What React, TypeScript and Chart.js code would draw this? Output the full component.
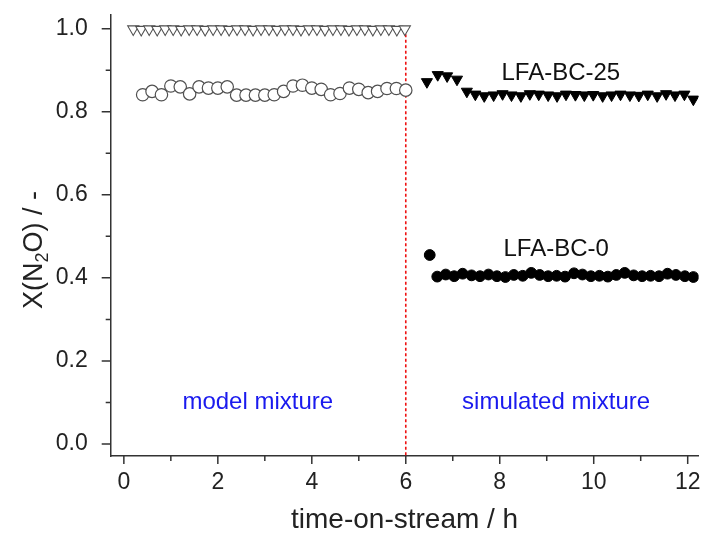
import React, { useEffect, useRef } from "react";
import { Chart, registerables } from "chart.js";

Chart.register(...registerables);

// ---------- data ----------
const xTickValues = [0, 2, 4, 6, 8, 10, 12];
const xMinorValues = [1, 3, 5, 7, 9, 11];
const yTickValues = [0, 0.2, 0.4, 0.6, 0.8, 1.0];
const yMinorValues = [0.1, 0.3, 0.5, 0.7, 0.9];

// model mixture, LFA-BC-25 (open triangles)
const modelBC25X = [0.2, 0.37, 0.54, 0.71, 0.88, 1.05, 1.22, 1.39, 1.56, 1.73, 1.9, 2.07, 2.24, 2.41, 2.58, 2.75, 2.92, 3.09, 3.26, 3.43, 3.6, 3.77, 3.94, 4.11, 4.28, 4.45, 4.62, 4.79, 4.96, 5.13, 5.3, 5.47, 5.64, 5.81, 5.98];
const modelBC25Y = [0.999, 0.998, 0.999, 0.998, 0.999, 0.999, 0.998, 0.999, 0.999, 0.998, 0.999, 0.999, 0.998, 0.999, 0.999, 0.998, 0.999, 0.999, 0.998, 0.999, 0.999, 0.998, 0.999, 0.999, 0.998, 0.999, 0.999, 0.998, 0.999, 0.999, 0.998, 0.999, 0.999, 0.998, 0.999];

// model mixture, LFA-BC-0 (open circles)
const modelBC0X = [0.4, 0.6, 0.8, 1.0, 1.2, 1.4, 1.6, 1.8, 2.0, 2.2, 2.4, 2.6, 2.8, 3.0, 3.2, 3.4, 3.6, 3.8, 4.0, 4.2, 4.4, 4.6, 4.8, 5.0, 5.2, 5.4, 5.6, 5.8, 6.0];
const modelBC0Y = [0.841, 0.849, 0.841, 0.862, 0.86, 0.843, 0.86, 0.857, 0.857, 0.86, 0.84, 0.84, 0.84, 0.84, 0.841, 0.849, 0.862, 0.864, 0.857, 0.854, 0.841, 0.844, 0.857, 0.854, 0.846, 0.849, 0.856, 0.856, 0.852];

// simulated mixture, LFA-BC-25 (filled triangles)
const simBC25X = [6.45, 6.68, 6.88, 7.09, 7.3, 7.48, 7.67, 7.87, 8.06, 8.25, 8.45, 8.64, 8.83, 9.03, 9.22, 9.41, 9.61, 9.8, 9.99, 10.19, 10.38, 10.57, 10.77, 10.96, 11.15, 11.35, 11.54, 11.73, 11.93, 12.12];
const simBC25Y = [0.872, 0.889, 0.886, 0.878, 0.849, 0.842, 0.838, 0.84, 0.843, 0.84, 0.838, 0.843, 0.842, 0.84, 0.838, 0.842, 0.841, 0.84, 0.841, 0.838, 0.84, 0.842, 0.84, 0.839, 0.842, 0.838, 0.843, 0.84, 0.842, 0.83];

// simulated mixture, LFA-BC-0 (filled circles)
const simBC0X = [6.51, 6.67, 6.85, 7.03, 7.21, 7.4, 7.58, 7.76, 7.94, 8.12, 8.3, 8.49, 8.67, 8.85, 9.03, 9.21, 9.39, 9.58, 9.76, 9.94, 10.12, 10.3, 10.48, 10.66, 10.85, 11.03, 11.21, 11.39, 11.57, 11.75, 11.94, 12.12];
const simBC0Y = [0.455, 0.403, 0.408, 0.404, 0.41, 0.406, 0.404, 0.408, 0.404, 0.402, 0.407, 0.405, 0.412, 0.407, 0.404, 0.405, 0.403, 0.411, 0.408, 0.404, 0.405, 0.403, 0.407, 0.412, 0.406, 0.404, 0.405, 0.404, 0.41, 0.407, 0.404, 0.402];

const switchTime = 6;

const textLabels = [
  { text: "LFA-BC-25", x: 9.3, y: 0.893, color: "#111111" },
  { text: "LFA-BC-0", x: 9.2, y: 0.468, color: "#111111" },
  { text: "model mixture", x: 2.85, y: 0.1, color: "#1a1aee" },
  { text: "simulated mixture", x: 9.2, y: 0.1, color: "#1a1aee" },
];

const FONT = "'Liberation Sans', Arial, Helvetica, sans-serif";

const toPoints = (xs: number[], ys: number[]) => xs.map((x, i) => ({ x, y: ys[i] }));

export default function App() {
  const canvasRef = useRef<HTMLCanvasElement | null>(null);

  useEffect(() => {
    document.body.style.margin = "0";
    const canvas = canvasRef.current;
    if (!canvas) return;

    const tickPlugin = {
      id: "customTicks",
      afterDraw(chart: any) {
        const { ctx, chartArea, scales } = chart;
        const xs = scales.x;
        const ys = scales.y;
        ctx.save();
        ctx.strokeStyle = "#333333";
        ctx.lineWidth = 1.5;
        ctx.beginPath();
        xTickValues.forEach((v) => {
          const p = xs.getPixelForValue(v);
          ctx.moveTo(p, chartArea.bottom);
          ctx.lineTo(p, chartArea.bottom + 8);
        });
        xMinorValues.forEach((v) => {
          const p = xs.getPixelForValue(v);
          ctx.moveTo(p, chartArea.bottom);
          ctx.lineTo(p, chartArea.bottom + 5);
        });
        yTickValues.forEach((v) => {
          const p = ys.getPixelForValue(v);
          ctx.moveTo(chartArea.left, p);
          ctx.lineTo(chartArea.left - 9, p);
        });
        yMinorValues.forEach((v) => {
          const p = ys.getPixelForValue(v);
          ctx.moveTo(chartArea.left, p);
          ctx.lineTo(chartArea.left - 5, p);
        });
        ctx.stroke();

        // x tick labels
        ctx.fillStyle = "#222222";
        ctx.font = `23px ${FONT}`;
        ctx.textAlign = "center";
        ctx.textBaseline = "middle";
        xTickValues.forEach((v) => {
          ctx.fillText(String(v), xs.getPixelForValue(v), chartArea.bottom + 27);
        });

        // annotations
        ctx.font = `24px ${FONT}`;
        textLabels.forEach((t) => {
          ctx.fillStyle = t.color;
          ctx.fillText(t.text, xs.getPixelForValue(t.x), ys.getPixelForValue(t.y));
        });

        // y axis title with subscript
        ctx.fillStyle = "#222222";
        ctx.translate(35, 250);
        ctx.rotate(-Math.PI / 2);
        const big = `27px ${FONT}`;
        const small = `18px ${FONT}`;
        const parts = [
          { t: "X(N", f: big, dy: 0 },
          { t: "2", f: small, dy: 8 },
          { t: "O) / -", f: big, dy: 0 },
        ];
        let total = 0;
        parts.forEach((p) => {
          ctx.font = p.f;
          total += ctx.measureText(p.t).width;
        });
        let cx = -total / 2;
        ctx.textAlign = "left";
        parts.forEach((p) => {
          ctx.font = p.f;
          ctx.fillText(p.t, cx, p.dy);
          cx += ctx.measureText(p.t).width;
        });
        ctx.restore();
      },
    };

    const switchLinePlugin = {
      id: "switchLine",
      beforeDatasetsDraw(chart: any) {
        const { ctx, chartArea, scales } = chart;
        const x = scales.x.getPixelForValue(switchTime);
        const yTop = scales.y.getPixelForValue(1.0);
        ctx.save();
        ctx.strokeStyle = "#ee1111";
        ctx.lineWidth = 1.6;
        ctx.setLineDash([3, 2.5]);
        ctx.beginPath();
        ctx.moveTo(x, yTop);
        ctx.lineTo(x, chartArea.bottom);
        ctx.stroke();
        ctx.restore();
      },
    };

    const chart = new Chart(canvas, {
      type: "scatter",
      data: {
        datasets: [
          {
            label: "LFA-BC-25 model",
            data: toPoints(modelBC25X, modelBC25Y),
            pointStyle: "triangle",
            pointRotation: 180,
            pointRadius: 6.4,
            pointBorderColor: "#505050",
            pointBackgroundColor: "#ffffff",
            pointBorderWidth: 1.1,
          },
          {
            label: "LFA-BC-0 model",
            data: toPoints(modelBC0X, modelBC0Y),
            pointStyle: "circle",
            pointRadius: 6.2,
            pointBorderColor: "#505050",
            pointBackgroundColor: "#ffffff",
            pointBorderWidth: 1.2,
          },
          {
            label: "LFA-BC-25 simulated",
            data: toPoints(simBC25X, simBC25Y),
            pointStyle: "triangle",
            pointRotation: 180,
            pointRadius: 6.4,
            pointBorderColor: "#000000",
            pointBackgroundColor: "#000000",
            pointBorderWidth: 1,
          },
          {
            label: "LFA-BC-0 simulated",
            data: toPoints(simBC0X, simBC0Y),
            pointStyle: "circle",
            pointRadius: 5.4,
            pointBorderColor: "#000000",
            pointBackgroundColor: "#000000",
            pointBorderWidth: 1,
          },
        ] as any,
      },
      options: {
        animation: false,
        responsive: false,
        maintainAspectRatio: false,
        layout: { padding: { top: 15, right: 2, left: 0, bottom: 0 } },
        plugins: {
          legend: { display: false },
          tooltip: { enabled: false },
          title: { display: false },
        },
        scales: {
          x: {
            type: "linear",
            min: -0.28,
            max: 12.23,
            afterBuildTicks: (scale: any) => {
              scale.ticks = xTickValues.map((v) => ({ value: v }));
            },
            afterFit: (scale: any) => {
              scale.height = 77;
              scale.paddingLeft = 0;
              scale.paddingRight = 0;
            },
            grid: { display: false },
            border: { display: true, color: "#333333", width: 1.5 },
            ticks: { display: false },
            title: {
              display: true,
              text: "time-on-stream / h",
              color: "#222222",
              font: { family: FONT, size: 28, lineHeight: 0.9 },
              padding: { top: 0, bottom: 0 },
            },
          },
          y: {
            type: "linear",
            min: -0.029,
            max: 1.033,
            afterBuildTicks: (scale: any) => {
              scale.ticks = yTickValues.map((v) => ({ value: v }));
            },
            afterFit: (scale: any) => {
              scale.width = 110.7;
              scale.paddingTop = 0;
              scale.paddingBottom = 0;
            },
            grid: { display: false },
            border: { display: true, color: "#333333", width: 1.5 },
            ticks: {
              color: "#222222",
              font: { family: FONT, size: 23 },
              padding: 15,
              autoSkip: false,
              callback: (v: any) => Number(v).toFixed(1),
            },
          },
        },
      } as any,
      plugins: [switchLinePlugin, tickPlugin],
    });

    return () => {
      chart.destroy();
    };
  }, []);

  return (
    <div style={{ width: 706, height: 533, background: "#ffffff" }}>
      <canvas ref={canvasRef} width={706} height={533} style={{ display: "block" }} />
    </div>
  );
}
